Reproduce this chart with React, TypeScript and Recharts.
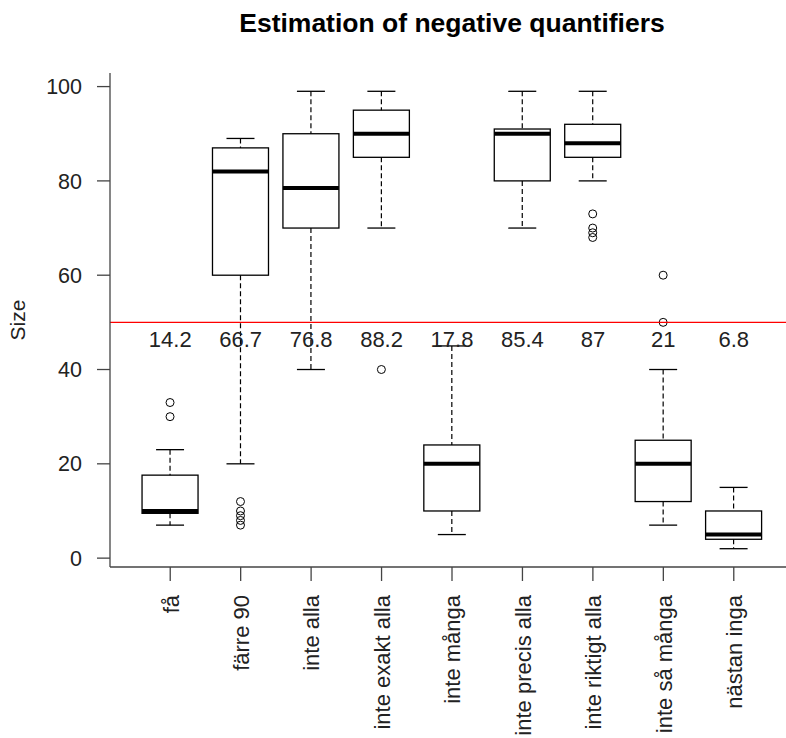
import {
  ComposedChart,
  Bar,
  Line,
  LabelList,
  XAxis,
  YAxis,
  ReferenceLine,
} from "recharts";

const categories = [
  "få",
  "färre 90",
  "inte alla",
  "inte exakt alla",
  "inte många",
  "inte precis alla",
  "inte riktigt alla",
  "inte så många",
  "nästan inga",
];
const whiskerLow = [7, 20, 40, 70, 5, 70, 80, 7, 2];
const lowerQuartile = [9.5, 60, 70, 85, 10, 80, 85, 12, 4];
const medians = [10, 82, 78.5, 90, 20, 90, 88, 20, 5];
const upperQuartile = [17.6, 87, 90, 95, 24, 91, 92, 25, 10];
const whiskerHigh = [23, 89, 99, 99, 45, 99, 99, 40, 15];
const outliers = [[33, 30], [12, 10, 9, 8, 7], [], [40], [], [], [73, 70, 69, 68], [60, 50], []];
const means = [14.2, 66.7, 76.8, 88.2, 17.8, 85.4, 87, 21, 6.8];
const yTicks = [0, 20, 40, 60, 80, 100];

// where the mean labels sit, in data units
const LABEL_AT = 46.3;
const CUTOFF = 50;

const FONT = '"Liberation Sans", Arial, sans-serif';
const INK = "#222";
const FRAME = "#444";

const rows = categories.map((name, i) => ({
  name,
  lo: whiskerLow[i],
  q1: lowerQuartile[i],
  med: medians[i],
  q3: upperQuartile[i],
  hi: whiskerHigh[i],
  out: outliers[i],
  mean: means[i],
  labelAt: LABEL_AT,
}));

function BoxShape(props: any) {
  const { x, y, width, height, payload } = props;
  const top = Math.min(y, y + height);
  const bottom = Math.max(y, y + height);
  const { lo, hi, q1, q3, med, out } = payload;
  // bar spans lo..hi, so map other values along that span
  const pix = (v: number) => bottom - ((v - lo) / (hi - lo)) * (bottom - top);
  const cx = x + width / 2;
  const cap = width / 4;
  return (
    <g>
      <line x1={cx} x2={cx} y1={pix(hi)} y2={pix(q3)} stroke="#000" strokeWidth={1.2} strokeDasharray="5 3" />
      <line x1={cx} x2={cx} y1={pix(q1)} y2={pix(lo)} stroke="#000" strokeWidth={1.2} strokeDasharray="5 3" />
      <line x1={cx - cap} x2={cx + cap} y1={pix(hi)} y2={pix(hi)} stroke="#000" strokeWidth={1.3} />
      <line x1={cx - cap} x2={cx + cap} y1={pix(lo)} y2={pix(lo)} stroke="#000" strokeWidth={1.3} />
      <rect x={x} y={pix(q3)} width={width} height={pix(q1) - pix(q3)} fill="none" stroke="#000" strokeWidth={1.3} />
      <line x1={x} x2={x + width} y1={pix(med)} y2={pix(med)} stroke="#000" strokeWidth={4} />
      {out.map((v: number, k: number) => (
        <circle key={k} cx={cx} cy={pix(v)} r={4} fill="none" stroke="#000" strokeWidth={1} />
      ))}
    </g>
  );
}

function CategoryTick({ x, y, payload }: any) {
  return (
    <g transform={`translate(${x},${y})`}>
      <text transform="rotate(-90)" textAnchor="end" dy="0.38em" fontSize={22} fontFamily={FONT} fill={INK}>
        {payload.value}
      </text>
    </g>
  );
}

function MeanLabel({ x, y, value }: any) {
  return (
    <text x={x} y={y} textAnchor="middle" dominantBaseline="central" fontSize={22} fontFamily={FONT} fill={INK}>
      {value}
    </text>
  );
}

function SizeLabel({ viewBox }: any) {
  if (!viewBox) return null;
  const cx = viewBox.x + 7;
  const cy = viewBox.y + viewBox.height / 2;
  return (
    <text
      x={cx}
      y={cy}
      transform={`rotate(-90 ${cx} ${cy})`}
      textAnchor="middle"
      dominantBaseline="central"
      fontSize={21}
      fontFamily={FONT}
      fill={INK}
    >
      Size
    </text>
  );
}

export default function App() {
  return (
    <div
      style={{
        position: "absolute",
        left: 0,
        top: 0,
        width: 786,
        height: 738,
        overflow: "hidden",
        background: "#fff",
      }}
    >
      <div
        style={{
          position: "absolute",
          left: 0,
          top: 9.5,
          width: 904,
          textAlign: "center",
          fontFamily: FONT,
          fontWeight: "bold",
          fontSize: 26.5,
          lineHeight: "26.5px",
          color: "#000",
        }}
      >
        Estimation of negative quantifiers
      </div>
      <ComposedChart
        width={800}
        height={738}
        data={rows}
        margin={{ top: 73, right: 6, bottom: 0, left: 10 }}
        barCategoryGap="10%"
      >
        <XAxis
          dataKey="name"
          height={171}
          interval={0}
          padding={{ left: 25, right: 25 }}
          tickSize={14}
          tickMargin={14}
          tick={<CategoryTick />}
          tickLine={{ stroke: FRAME, strokeWidth: 1.3 }}
          axisLine={{ stroke: FRAME, strokeWidth: 1.3 }}
        />
        <XAxis
          xAxisId="top"
          orientation="top"
          dataKey="name"
          height={0}
          padding={{ left: 25, right: 25 }}
          tick={false}
          tickLine={false}
          axisLine={{ stroke: FRAME, strokeWidth: 1.3 }}
        />
        <YAxis
          type="number"
          width={100}
          domain={[-1.88, 102.88]}
          allowDataOverflow
          ticks={yTicks}
          tickSize={13}
          tickMargin={15}
          tick={{ fontSize: 21.5, fontFamily: FONT, fill: INK }}
          tickLine={{ stroke: FRAME, strokeWidth: 1.3 }}
          axisLine={{ stroke: FRAME, strokeWidth: 1.3 }}
          label={<SizeLabel />}
        />
        <YAxis
          yAxisId="right"
          orientation="right"
          width={0}
          domain={[-1.88, 102.88]}
          tick={false}
          tickLine={false}
          axisLine={{ stroke: FRAME, strokeWidth: 1.3 }}
        />
        <ReferenceLine y={CUTOFF} stroke="#ff0000" strokeWidth={1.2} />
        <Bar
          dataKey={(d: any) => [d.lo, d.hi]}
          shape={<BoxShape />}
          isAnimationActive={false}
        />
        <Line
          dataKey="labelAt"
          stroke="none"
          dot={false}
          activeDot={false}
          isAnimationActive={false}
        >
          <LabelList dataKey="mean" content={<MeanLabel />} />
        </Line>
      </ComposedChart>
    </div>
  );
}
